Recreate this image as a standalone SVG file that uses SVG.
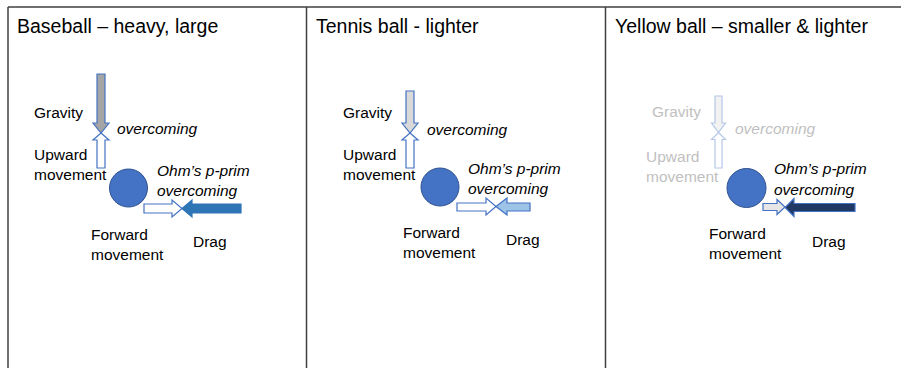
<svg xmlns="http://www.w3.org/2000/svg" width="901" height="368" viewBox="0 0 901 368">
<style>
text{font-family:"Liberation Sans",Arial,sans-serif;font-size:15.5px;fill:#000}
.title{font-size:19.5px}
.it{font-style:italic}
.faint{fill:#BFBFBF}
.frame{stroke:#404040;stroke-width:1.5;fill:none}
.ball{fill:#4472C4;stroke:#2F528F;stroke-width:1}
.arr{stroke:#4472C4;stroke-width:1.2;stroke-linejoin:miter}
.open{fill:#FFFFFF}
.faintarr{stroke:#B4C7E7;stroke-width:1.2}
</style>
<rect x="0" y="0" width="901" height="368" fill="#FFFFFF"/>
<g id="frame">
<path class="frame" d="M8,7 H901 M8,7 V368 M306.5,7 V368 M605.5,7 V368"/>
</g>
<g id="panel1">
<text class="title" x="17" y="33">Baseball – heavy, large</text>
<text x="34" y="118">Gravity</text>
<text class="it" x="117" y="134">overcoming</text>
<text x="34" y="160">Upward</text>
<text x="34" y="180">movement</text>
<text class="it" x="157" y="176">Ohm’s p-prim</text>
<text class="it" x="157" y="196">overcoming</text>
<text x="91" y="240">Forward</text>
<text x="91" y="260">movement</text>
<text x="193" y="247">Drag</text>
</g>
<g id="panel2">
<text class="title" x="316" y="33">Tennis ball - lighter</text>
<text x="343" y="118">Gravity</text>
<text class="it" x="427" y="135">overcoming</text>
<text x="343" y="160">Upward</text>
<text x="343" y="180">movement</text>
<text class="it" x="468" y="174">Ohm’s p-prim</text>
<text class="it" x="468" y="194">overcoming</text>
<text x="403" y="238">Forward</text>
<text x="403" y="258">movement</text>
<text x="506" y="245">Drag</text>
</g>
<g id="panel3">
<text class="title" x="615" y="33">Yellow ball – smaller &amp; lighter</text>
<text class="faint" x="652" y="117">Gravity</text>
<text class="it faint" x="735" y="134">overcoming</text>
<text class="faint" x="646" y="162">Upward</text>
<text class="faint" x="646" y="182">movement</text>
<text class="it" x="774" y="174">Ohm’s p-prim</text>
<text class="it" x="774" y="195">overcoming</text>
<text x="709" y="239">Forward</text>
<text x="709" y="259">movement</text>
<text x="812" y="247">Drag</text>
</g>
<g id="ball1"><circle class="ball" cx="128.5" cy="188" r="19"/></g>
<g id="ball2"><circle class="ball" cx="440" cy="187" r="19"/></g>
<g id="ball3"><circle class="ball" cx="746.5" cy="188" r="19.5"/></g>
<g id="connectors">
<!-- panel 1 -->
<path class="arr" fill="#A5A5A5" d="M97,74 H105 V123 H109 L101,133 L93,123 H97 Z"/>
<path class="arr open" d="M101,133 L109,140 H105 V168 H97 V140 H93 Z"/>
<path class="arr open" d="M144,204 H172 V200 L182,208.5 L172,217 V213 H144 Z"/>
<path fill="#2E75B6" stroke="#2E75B6" stroke-width="1.2" d="M241,204 H192 V200 L182,208.5 L192,217 V213 H241 Z"/>
<!-- panel 2 -->
<path class="arr" fill="#D9D9D9" d="M406,91 H414 V123 H418 L410,133 L402,123 H406 Z"/>
<path class="arr open" d="M410,133 L418,140 H414 V168 H406 V140 H402 Z"/>
<path class="arr open" d="M457,203 H486 V198 L496,206.5 L486,215 V211 H457 Z"/>
<path class="arr" fill="#9DC3E6" d="M530,203 H507 V198 L496,206.5 L507,215 V211 H530 Z"/>
<!-- panel 3 -->
<path class="faintarr" fill="#F2F2F2" d="M715,96 H722 V123 H725.5 L718.5,132.5 L711.5,123 H715 Z"/>
<path class="faintarr open" d="M718.5,132.5 L725.5,139.5 H722 V168 H715 V139.5 H711.5 Z"/>
<path class="arr" fill="#E7E6E6" d="M763,203.5 H777 V199.5 L785,207 L777,214.5 V210.5 H763 Z"/>
<path class="arr" fill="#203864" d="M855,203.5 H794 V198.5 L785,207.5 L794,216.5 V211.5 H855 Z"/>
</g>
</svg>
